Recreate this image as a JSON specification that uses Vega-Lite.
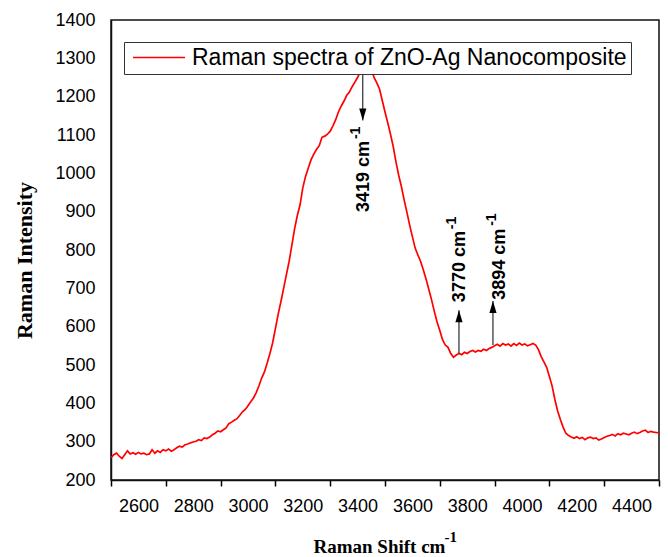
{
  "$schema": "https://vega.github.io/schema/vega-lite/v6.json",
  "autosize": "none",
  "width": 548,
  "height": 460,
  "padding": {"left": 111, "top": 20, "right": 9, "bottom": 77},
  "background": "white",
  "config": {
    "view": {"stroke": "#111", "strokeWidth": 1.5},
    "font": "Liberation Sans"
  },
  "datasets": {
    "spectrum": [
      {"shift": 2500, "intensity": 258}, {"shift": 2510, "intensity": 266}, {"shift": 2520, "intensity": 270}, {"shift": 2530, "intensity": 262},
      {"shift": 2540, "intensity": 256}, {"shift": 2550, "intensity": 266}, {"shift": 2560, "intensity": 276}, {"shift": 2570, "intensity": 268},
      {"shift": 2580, "intensity": 271}, {"shift": 2590, "intensity": 267}, {"shift": 2600, "intensity": 272}, {"shift": 2610, "intensity": 268},
      {"shift": 2620, "intensity": 270}, {"shift": 2630, "intensity": 266}, {"shift": 2640, "intensity": 268}, {"shift": 2650, "intensity": 279},
      {"shift": 2660, "intensity": 270}, {"shift": 2670, "intensity": 276}, {"shift": 2680, "intensity": 272}, {"shift": 2690, "intensity": 279},
      {"shift": 2700, "intensity": 276}, {"shift": 2710, "intensity": 281}, {"shift": 2720, "intensity": 275}, {"shift": 2730, "intensity": 279},
      {"shift": 2740, "intensity": 284}, {"shift": 2750, "intensity": 288}, {"shift": 2760, "intensity": 286}, {"shift": 2770, "intensity": 292},
      {"shift": 2780, "intensity": 294}, {"shift": 2790, "intensity": 297}, {"shift": 2800, "intensity": 299}, {"shift": 2810, "intensity": 301},
      {"shift": 2820, "intensity": 305}, {"shift": 2830, "intensity": 303}, {"shift": 2840, "intensity": 310}, {"shift": 2850, "intensity": 308},
      {"shift": 2860, "intensity": 312}, {"shift": 2870, "intensity": 318}, {"shift": 2880, "intensity": 322}, {"shift": 2890, "intensity": 328},
      {"shift": 2900, "intensity": 326}, {"shift": 2910, "intensity": 331}, {"shift": 2920, "intensity": 336}, {"shift": 2930, "intensity": 347},
      {"shift": 2940, "intensity": 351}, {"shift": 2950, "intensity": 356}, {"shift": 2960, "intensity": 360}, {"shift": 2970, "intensity": 369},
      {"shift": 2980, "intensity": 378}, {"shift": 2990, "intensity": 384}, {"shift": 3000, "intensity": 394}, {"shift": 3010, "intensity": 404},
      {"shift": 3020, "intensity": 414}, {"shift": 3030, "intensity": 428}, {"shift": 3040, "intensity": 446}, {"shift": 3050, "intensity": 466},
      {"shift": 3060, "intensity": 482}, {"shift": 3070, "intensity": 505}, {"shift": 3080, "intensity": 530}, {"shift": 3090, "intensity": 558},
      {"shift": 3100, "intensity": 595}, {"shift": 3110, "intensity": 632}, {"shift": 3120, "intensity": 665}, {"shift": 3130, "intensity": 700},
      {"shift": 3140, "intensity": 735}, {"shift": 3150, "intensity": 770}, {"shift": 3160, "intensity": 812}, {"shift": 3170, "intensity": 855},
      {"shift": 3180, "intensity": 890}, {"shift": 3190, "intensity": 918}, {"shift": 3200, "intensity": 962}, {"shift": 3210, "intensity": 992},
      {"shift": 3220, "intensity": 1014}, {"shift": 3230, "intensity": 1035}, {"shift": 3240, "intensity": 1050}, {"shift": 3250, "intensity": 1062},
      {"shift": 3260, "intensity": 1072}, {"shift": 3270, "intensity": 1094}, {"shift": 3280, "intensity": 1097}, {"shift": 3290, "intensity": 1102},
      {"shift": 3300, "intensity": 1110}, {"shift": 3310, "intensity": 1124}, {"shift": 3320, "intensity": 1140}, {"shift": 3330, "intensity": 1160},
      {"shift": 3340, "intensity": 1175}, {"shift": 3350, "intensity": 1188}, {"shift": 3360, "intensity": 1203}, {"shift": 3370, "intensity": 1212},
      {"shift": 3380, "intensity": 1226}, {"shift": 3390, "intensity": 1238}, {"shift": 3400, "intensity": 1250}, {"shift": 3410, "intensity": 1266},
      {"shift": 3420, "intensity": 1290}, {"shift": 3430, "intensity": 1310}, {"shift": 3440, "intensity": 1298}, {"shift": 3450, "intensity": 1272},
      {"shift": 3460, "intensity": 1250}, {"shift": 3470, "intensity": 1236}, {"shift": 3480, "intensity": 1220}, {"shift": 3490, "intensity": 1190},
      {"shift": 3500, "intensity": 1160}, {"shift": 3510, "intensity": 1132}, {"shift": 3520, "intensity": 1102}, {"shift": 3530, "intensity": 1070},
      {"shift": 3540, "intensity": 1030}, {"shift": 3550, "intensity": 995}, {"shift": 3560, "intensity": 965}, {"shift": 3570, "intensity": 930},
      {"shift": 3580, "intensity": 898}, {"shift": 3590, "intensity": 865}, {"shift": 3600, "intensity": 835}, {"shift": 3610, "intensity": 805},
      {"shift": 3620, "intensity": 787}, {"shift": 3630, "intensity": 770}, {"shift": 3640, "intensity": 748}, {"shift": 3650, "intensity": 724},
      {"shift": 3660, "intensity": 697}, {"shift": 3670, "intensity": 670}, {"shift": 3680, "intensity": 640}, {"shift": 3690, "intensity": 612},
      {"shift": 3700, "intensity": 590}, {"shift": 3710, "intensity": 566}, {"shift": 3720, "intensity": 552}, {"shift": 3730, "intensity": 546},
      {"shift": 3740, "intensity": 530}, {"shift": 3750, "intensity": 520}, {"shift": 3760, "intensity": 526}, {"shift": 3770, "intensity": 530},
      {"shift": 3780, "intensity": 527}, {"shift": 3790, "intensity": 533}, {"shift": 3800, "intensity": 530}, {"shift": 3810, "intensity": 535},
      {"shift": 3820, "intensity": 538}, {"shift": 3830, "intensity": 534}, {"shift": 3840, "intensity": 538}, {"shift": 3850, "intensity": 536},
      {"shift": 3860, "intensity": 541}, {"shift": 3870, "intensity": 538}, {"shift": 3880, "intensity": 543}, {"shift": 3890, "intensity": 546},
      {"shift": 3900, "intensity": 550}, {"shift": 3910, "intensity": 554}, {"shift": 3920, "intensity": 549}, {"shift": 3930, "intensity": 556},
      {"shift": 3940, "intensity": 552}, {"shift": 3950, "intensity": 555}, {"shift": 3960, "intensity": 549}, {"shift": 3970, "intensity": 556},
      {"shift": 3980, "intensity": 551}, {"shift": 3990, "intensity": 557}, {"shift": 4000, "intensity": 552}, {"shift": 4010, "intensity": 555},
      {"shift": 4020, "intensity": 550}, {"shift": 4030, "intensity": 553}, {"shift": 4040, "intensity": 556}, {"shift": 4050, "intensity": 552},
      {"shift": 4060, "intensity": 540}, {"shift": 4070, "intensity": 522}, {"shift": 4080, "intensity": 508}, {"shift": 4090, "intensity": 494},
      {"shift": 4100, "intensity": 470}, {"shift": 4110, "intensity": 445}, {"shift": 4120, "intensity": 410}, {"shift": 4130, "intensity": 380},
      {"shift": 4140, "intensity": 358}, {"shift": 4150, "intensity": 338}, {"shift": 4160, "intensity": 322}, {"shift": 4170, "intensity": 316},
      {"shift": 4180, "intensity": 312}, {"shift": 4190, "intensity": 309}, {"shift": 4200, "intensity": 313}, {"shift": 4210, "intensity": 308},
      {"shift": 4220, "intensity": 311}, {"shift": 4230, "intensity": 305}, {"shift": 4240, "intensity": 310}, {"shift": 4250, "intensity": 312},
      {"shift": 4260, "intensity": 308}, {"shift": 4270, "intensity": 310}, {"shift": 4280, "intensity": 304}, {"shift": 4290, "intensity": 307},
      {"shift": 4300, "intensity": 311}, {"shift": 4310, "intensity": 314}, {"shift": 4320, "intensity": 316}, {"shift": 4330, "intensity": 319},
      {"shift": 4340, "intensity": 315}, {"shift": 4350, "intensity": 321}, {"shift": 4360, "intensity": 318}, {"shift": 4370, "intensity": 322},
      {"shift": 4380, "intensity": 320}, {"shift": 4390, "intensity": 318}, {"shift": 4400, "intensity": 322}, {"shift": 4410, "intensity": 325},
      {"shift": 4420, "intensity": 321}, {"shift": 4430, "intensity": 324}, {"shift": 4440, "intensity": 328}, {"shift": 4450, "intensity": 330},
      {"shift": 4460, "intensity": 324}, {"shift": 4470, "intensity": 327}, {"shift": 4480, "intensity": 325}, {"shift": 4490, "intensity": 324},
      {"shift": 4500, "intensity": 323}
    ],
    "peaks": [
      {"peak": 3419, "tail": 1259, "head": 1138, "dir": "down", "label": "3419 cm", "textAt": 899},
      {"peak": 3770, "tail": 531, "head": 643, "dir": "up", "label": "3770 cm", "textAt": 664},
      {"peak": 3894, "tail": 552, "head": 667, "dir": "up", "label": "3894 cm", "textAt": 670}
    ]
  },
  "resolve": {"axis": {"x": "independent", "y": "independent"}},
  "layer": [
    {
      "data": {"name": "spectrum"},
      "mark": {"type": "line", "strokeWidth": 1.7, "clip": true},
      "encoding": {
        "x": {
          "field": "shift", "type": "quantitative",
          "scale": {"domain": [2500, 4500], "nice": false, "zero": false},
          "axis": {
            "orient": "bottom",
            "values": [2500, 2600, 2700, 2800, 2900, 3000, 3100, 3200, 3300, 3400, 3500, 3600, 3700, 3800, 3900, 4000, 4100, 4200, 4300, 4400, 4500],
            "format": "d",
            "labelExpr": "datum.value % 200 == 0 && datum.value > 2500 && datum.value < 4500 ? datum.label : ''",
            "labelOverlap": false, "labelFlush": false,
            "labelFont": "Liberation Sans", "labelFontSize": 18, "labelColor": "black", "labelPadding": 11,
            "tickSize": 6, "tickWidth": 1.5, "tickColor": "black",
            "tickOpacity": {"condition": {"test": "datum.value % 200 == 100", "value": 1}, "value": 0},
            "domainColor": "#111", "domainWidth": 1.5, "grid": false,
            "title": "Raman Shift cm",
            "titleFont": "Liberation Serif", "titleFontWeight": "bold", "titleFontSize": 19, "titleColor": "black",
            "titleAlign": "left", "titleBaseline": "alphabetic", "titleX": 202, "titleY": 72
          }
        },
        "y": {
          "field": "intensity", "type": "quantitative",
          "scale": {"domain": [200, 1400], "nice": false, "zero": false},
          "axis": {
            "orient": "left",
            "values": [200, 300, 400, 500, 600, 700, 800, 900, 1000, 1100, 1200, 1300, 1400],
            "format": "d",
            "ticks": false, "labelPadding": 16, "labelOverlap": false, "labelFlush": false,
            "labelFont": "Liberation Sans", "labelFontSize": 18, "labelColor": "black",
            "domainColor": "#111", "domainWidth": 1.5, "grid": false,
            "title": "Raman Intensity",
            "titleFont": "Liberation Serif", "titleFontWeight": "bold", "titleFontSize": 22, "titleColor": "black",
            "titleAngle": 270, "titleAlign": "center", "titleBaseline": "middle", "titleX": -87, "titleY": 240
          }
        },
        "color": {
          "datum": "Raman spectra of ZnO-Ag Nanocomposite",
          "scale": {"range": ["#ff0000"]},
          "legend": {
            "orient": "none", "legendX": 13, "legendY": 22, "title": null,
            "labelFont": "Liberation Sans", "labelFontSize": 23, "labelColor": "black", "labelLimit": 600,
            "symbolType": "M-1,0H7", "symbolSize": 169, "symbolStrokeWidth": 1.6, "labelOffset": 41,
            "padding": 4, "strokeColor": "#333", "fillColor": "white"
          }
        }
      }
    },
    {
      "data": {"name": "peaks"},
      "mark": {"type": "rule", "color": "black", "strokeWidth": 1},
      "encoding": {
        "x": {
          "field": "peak", "type": "quantitative",
          "scale": {"domain": [2500, 4500], "nice": false, "zero": false},
          "axis": {
            "orient": "bottom", "domain": false, "ticks": false, "labels": false, "grid": false,
            "title": "-1",
            "titleFont": "Liberation Serif", "titleFontWeight": "bold", "titleFontSize": 15, "titleColor": "black",
            "titleAlign": "left", "titleBaseline": "alphabetic", "titleX": 333, "titleY": 61
          }
        },
        "y": {"field": "tail", "type": "quantitative", "scale": {"domain": [200, 1400], "nice": false, "zero": false}, "axis": null},
        "y2": {"field": "head"}
      }
    },
    {
      "data": {"name": "peaks"},
      "mark": {"type": "point", "filled": true, "color": "black", "opacity": 1, "size": 144},
      "encoding": {
        "x": {"field": "peak", "type": "quantitative", "scale": {"domain": [2500, 4500], "nice": false, "zero": false}, "axis": null},
        "y": {"field": "head", "type": "quantitative", "scale": {"domain": [200, 1400], "nice": false, "zero": false}, "axis": null},
        "shape": {
          "field": "dir", "type": "nominal",
          "scale": {"domain": ["up", "down"], "range": ["M0,0L0.6,2L-0.6,2Z", "M0,0L0.6,-2L-0.6,-2Z"]},
          "legend": null
        }
      }
    },
    {
      "data": {"name": "peaks"},
      "transform": [{"filter": "datum.peak != 3894"}],
      "mark": {"type": "text", "angle": 270, "align": "left", "baseline": "middle", "font": "Liberation Sans", "fontWeight": "bold", "fontSize": 18, "color": "black", "dy": 1},
      "encoding": {
        "x": {"field": "peak", "type": "quantitative", "scale": {"domain": [2500, 4500], "nice": false, "zero": false}, "axis": null},
        "y": {"field": "textAt", "type": "quantitative", "scale": {"domain": [200, 1400], "nice": false, "zero": false}, "axis": null},
        "text": {"field": "label"}
      }
    },
    {
      "data": {"name": "peaks"},
      "transform": [{"filter": "datum.peak != 3894"}],
      "mark": {"type": "text", "text": "-1", "angle": 270, "align": "left", "baseline": "middle", "font": "Liberation Sans", "fontWeight": "bold", "fontSize": 14, "color": "black", "dx": 73, "dy": -7},
      "encoding": {
        "x": {"field": "peak", "type": "quantitative", "scale": {"domain": [2500, 4500], "nice": false, "zero": false}, "axis": null},
        "y": {"field": "textAt", "type": "quantitative", "scale": {"domain": [200, 1400], "nice": false, "zero": false}, "axis": null}
      }
    },
    {
      "data": {"name": "peaks"},
      "transform": [{"filter": "datum.peak == 3894"}],
      "mark": {"type": "text", "angle": 270, "align": "left", "baseline": "middle", "font": "Liberation Sans", "fontWeight": "bold", "fontSize": 18, "color": "black", "dy": 7},
      "encoding": {
        "x": {"field": "peak", "type": "quantitative", "scale": {"domain": [2500, 4500], "nice": false, "zero": false}, "axis": null},
        "y": {"field": "textAt", "type": "quantitative", "scale": {"domain": [200, 1400], "nice": false, "zero": false}, "axis": null},
        "text": {"field": "label"}
      }
    },
    {
      "data": {"name": "peaks"},
      "transform": [{"filter": "datum.peak == 3894"}],
      "mark": {"type": "text", "text": "-1", "angle": 270, "align": "left", "baseline": "middle", "font": "Liberation Sans", "fontWeight": "bold", "fontSize": 14, "color": "black", "dx": 74, "dy": -1},
      "encoding": {
        "x": {"field": "peak", "type": "quantitative", "scale": {"domain": [2500, 4500], "nice": false, "zero": false}, "axis": null},
        "y": {"field": "textAt", "type": "quantitative", "scale": {"domain": [200, 1400], "nice": false, "zero": false}, "axis": null}
      }
    }
  ]
}
